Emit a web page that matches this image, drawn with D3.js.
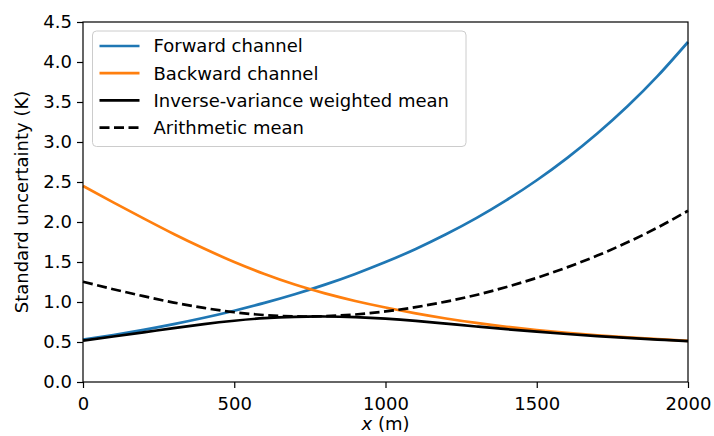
<!DOCTYPE html>
<html>
<head>
<meta charset="utf-8">
<script src="https://cdn.jsdelivr.net/npm/d3@7/dist/d3.min.js"></script>
<style>
  html, body { margin: 0; padding: 0; background: #fff; }
  svg { display: block; }
  text { font-family: "DejaVu Sans", sans-serif; fill: #000; }
</style>
</head>
<body>
<svg id="chart" width="714" height="436"></svg>
<script>
// ---- data ----
const xPositions = [0,100,200,300,400,500,600,700,800,900,1000,1100,1200,1300,1400,1500,1600,1700,1800,1900,2000];
const forwardChannel  = [0.53,0.588,0.652,0.724,0.803,0.891,0.989,1.097,1.217,1.351,1.499,1.663,1.846,2.048,2.273,2.522,2.799,3.106,3.447,3.826,4.25];
const backwardChannel = [2.45,2.245,2.045,1.85,1.668,1.50,1.35,1.218,1.108,1.013,0.931,0.858,0.794,0.738,0.69,0.649,0.614,0.584,0.558,0.535,0.514];
const inverseVarianceMean = [0.518,0.569,0.621,0.674,0.724,0.766,0.798,0.815,0.819,0.81,0.791,0.763,0.729,0.694,0.66,0.629,0.60,0.574,0.551,0.53,0.51];
const arithmeticMean = [1.253,1.16,1.073,0.993,0.926,0.872,0.837,0.82,0.823,0.844,0.882,0.936,1.005,1.088,1.188,1.302,1.433,1.58,1.746,1.932,2.14];
const xTicks = [0,500,1000,1500,2000];
const yTicks = [0,0.5,1.0,1.5,2.0,2.5,3.0,3.5,4.0,4.5];
const seriesNames = ["Forward channel","Backward channel","Inverse-variance weighted mean","Arithmetic mean"];
const seriesColors = ["#1f77b4","#ff7f0e","#000000","#000000"];
const seriesDash = [null,null,null,"10,4.5"];

// ---- layout ----
const svg = d3.select("#chart");
const mLeft = 83, mRight = 688, mTop = 22, mBottom = 382;
const x = d3.scaleLinear().domain([0,2000]).range([mLeft,mRight]);
const y = d3.scaleLinear().domain([0,4.5]).range([mBottom,mTop]);
const FS = 18;

const allSeries = [forwardChannel, backwardChannel, inverseVarianceMean, arithmeticMean];
const line = d3.line().x(d => x(d[0])).y(d => y(d[1])).curve(d3.curveNatural);

const plot = svg.append("g");
allSeries.forEach((vals, i) => {
  const pts = xPositions.map((xv, j) => [xv, vals[j]]);
  plot.append("path")
    .attr("d", line(pts))
    .attr("fill", "none")
    .attr("stroke", seriesColors[i])
    .attr("stroke-width", 2.7)
    .attr("stroke-dasharray", seriesDash[i])
    .attr("stroke-linecap", "butt");
});

// axes
const xAxis = d3.axisBottom(x).tickValues(xTicks).tickSize(6).tickPadding(5).tickFormat(d3.format("d"));
const yAxis = d3.axisLeft(y).tickValues(yTicks).tickSize(6).tickPadding(5).tickFormat(d3.format(".1f"));
const gx = svg.append("g").attr("transform", `translate(0,${mBottom})`).call(xAxis);
const gy = svg.append("g").attr("transform", `translate(${mLeft},0)`).call(yAxis);
[gx, gy].forEach(g => {
  g.select(".domain").remove();
  g.selectAll(".tick line").attr("stroke", "#000").attr("stroke-width", 1.2);
  g.selectAll(".tick text").attr("font-size", FS).attr("font-family", "DejaVu Sans").attr("fill", "#000");
});
gx.selectAll(".tick text").attr("dy", "0.95em");

// frame
svg.append("rect")
  .attr("x", mLeft).attr("y", mTop)
  .attr("width", mRight - mLeft).attr("height", mBottom - mTop)
  .attr("fill", "none").attr("stroke", "#000").attr("stroke-width", 1.2);

// axis labels
const xl = svg.append("text")
  .attr("x", (mLeft + mRight) / 2).attr("y", 430)
  .attr("text-anchor", "middle").attr("font-size", FS);
xl.append("tspan").attr("font-style", "italic").text("x");
xl.append("tspan").text(" (m)");

svg.append("text")
  .attr("transform", `translate(28,${(mTop + mBottom) / 2}) rotate(-90)`)
  .attr("text-anchor", "middle").attr("font-size", FS)
  .text("Standard uncertainty (K)");

// legend
const lg = svg.append("g");
lg.append("rect")
  .attr("x", 92.5).attr("y", 31).attr("width", 373.5).attr("height", 115.5)
  .attr("rx", 4).attr("ry", 4)
  .attr("fill", "#fff").attr("fill-opacity", 0.8)
  .attr("stroke", "#cccccc").attr("stroke-width", 1);
const rowY = d => 46 + d * 27.2;
seriesNames.forEach((name, i) => {
  lg.append("line")
    .attr("x1", 99.5).attr("x2", 139.5)
    .attr("y1", rowY(i)).attr("y2", rowY(i))
    .attr("stroke", seriesColors[i]).attr("stroke-width", 2.7)
    .attr("stroke-dasharray", seriesDash[i]);
  lg.append("text")
    .attr("x", 153.5).attr("y", rowY(i))
    .attr("dy", "0.35em")
    .attr("font-size", FS)
    .text(name);
});
</script>
</body>
</html>
